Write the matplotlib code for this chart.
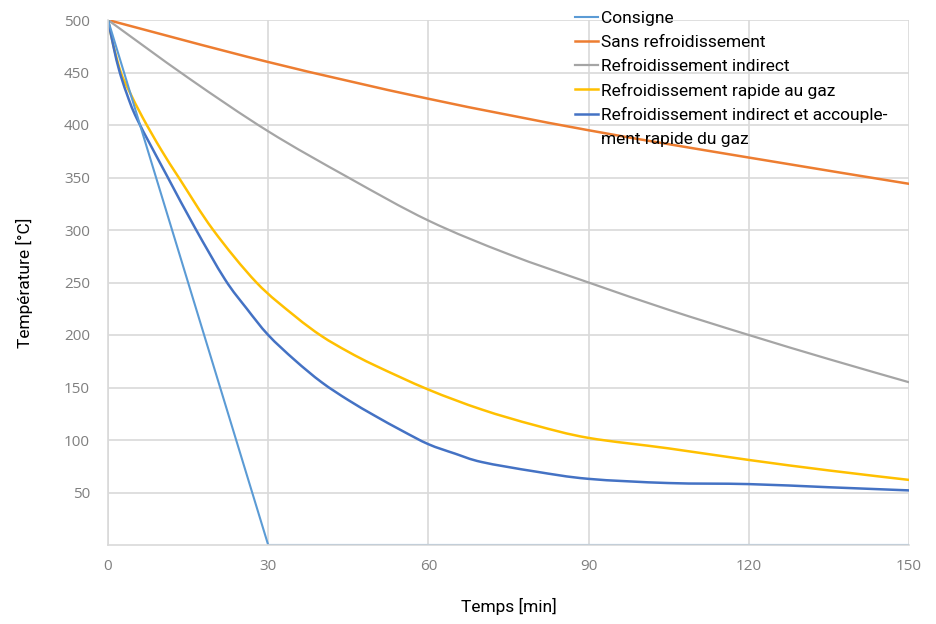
import matplotlib
matplotlib.use("Agg")
import matplotlib.pyplot as plt
import numpy as np
from matplotlib.path import Path
from matplotlib.patches import PathPatch

# time [min] and temperature [°C]
t_consigne = [0, 30, 150]
consigne = [500, 0, 0]

t_sans = [0, 30, 60, 90, 120, 150]
sans = [500, 460, 425, 395, 369, 344]

t_indirect = [0, 15, 30, 45, 60, 75, 90, 105, 120, 135, 150]
indirect = [500, 445, 394, 350, 309, 277, 250, 224, 200, 177, 155]

t_gaz = [0, 1, 2.4, 4, 6.5, 10, 13.5, 19.7, 27.8, 35, 40, 45, 50, 60, 70, 80, 90, 105, 120, 135, 150]
gaz = [500, 476, 450, 432, 407, 376, 348, 300, 250, 218, 199, 184, 171, 148, 129, 114, 102, 92, 81, 71, 62]

t_mixte = [0, 1.1, 2.1, 3.5, 5.5, 11, 16.3, 21.9, 26, 30, 35, 40, 45, 50, 55, 60, 65, 70, 80, 90, 105, 120, 135, 150]
mixte = [500, 473, 452, 430, 405, 352, 302, 253, 225, 200, 176, 155, 138, 123, 109, 96, 87, 79, 70, 63, 59, 58, 55, 52]

x_ticks = [0, 30, 60, 90, 120, 150]
y_ticks = [50, 100, 150, 200, 250, 300, 350, 400, 450, 500]

FONT = "Roboto"


def smooth_line(ax, x, y, color, lw):
    """Excel-style smoothed line: Catmull-Rom segments drawn as cubic Beziers."""
    p = np.column_stack([x, y]).astype(float)
    ext = np.vstack([p[0], p, p[-1]])
    verts = [p[0]]
    codes = [Path.MOVETO]
    for i in range(len(p) - 1):
        c1 = ext[i + 1] + (ext[i + 2] - ext[i]) / 6
        c2 = ext[i + 2] - (ext[i + 3] - ext[i + 1]) / 6
        verts += [c1, c2, p[i + 1]]
        codes += [Path.CURVE4] * 3
    ax.add_patch(PathPatch(Path(verts, codes), fill=False, edgecolor=color, lw=lw,
                           capstyle="round", joinstyle="round"))


fig = plt.figure(figsize=(9.36, 6.24), dpi=100)
ax = fig.add_axes([108 / 936, 1 - 545 / 624, 801 / 936, 525 / 624])

ax.plot(t_consigne, consigne, color="#5B9BD5", lw=1.5)
smooth_line(ax, t_sans, sans, "#ED7D31", 1.8)
smooth_line(ax, t_indirect, indirect, "#A5A5A5", 1.6)
smooth_line(ax, t_gaz, gaz, "#FFC000", 1.8)
smooth_line(ax, t_mixte, mixte, "#4472C4", 1.8)

# legend entries (last label wraps onto a second row like the original)
handles = [
    plt.Line2D([], [], color="#5B9BD5", lw=1.5),
    plt.Line2D([], [], color="#ED7D31", lw=1.8),
    plt.Line2D([], [], color="#A5A5A5", lw=1.6),
    plt.Line2D([], [], color="#FFC000", lw=1.8),
    plt.Line2D([], [], color="#4472C4", lw=1.8),
    plt.Line2D([], [], lw=0),
]
labels = ["Consigne", "Sans refroidissement", "Refroidissement indirect",
          "Refroidissement rapide au gaz", "Refroidissement indirect et accouple-",
          "ment rapide du gaz"]

ax.set_xlim(0, 150)
ax.set_ylim(0, 500)
ax.set_xticks(x_ticks)
ax.set_yticks(y_ticks)
ax.grid(color="#D9D9D9", lw=1.2)
ax.set_axisbelow(True)
for s in ["top", "right"]:
    ax.spines[s].set_visible(False)
for s in ["left", "bottom"]:
    ax.spines[s].set_color("#D9D9D9")
    ax.spines[s].set_linewidth(1.2)
ax.tick_params(length=0, labelsize=11, labelcolor="#7F7F7F")
ax.tick_params(axis="x", pad=10)
ax.tick_params(axis="y", pad=13)
for lab in ax.get_xticklabels() + ax.get_yticklabels():
    lab.set_family("Open Sans")

ax.set_xlabel("Temps [min]", family=FONT, fontsize=12.5, labelpad=17)
ax.set_ylabel("Température [°C]", family=FONT, fontsize=12.5, labelpad=22)

fig.legend(handles, labels, loc="upper left", bbox_to_anchor=(575 / 936, 1 - 11 / 624),
           frameon=False, prop={"family": FONT, "size": 12.5}, borderpad=0, borderaxespad=0,
           handlelength=1.3, handletextpad=0.2, labelspacing=0.5)

fig.savefig("out.png", dpi=100)
